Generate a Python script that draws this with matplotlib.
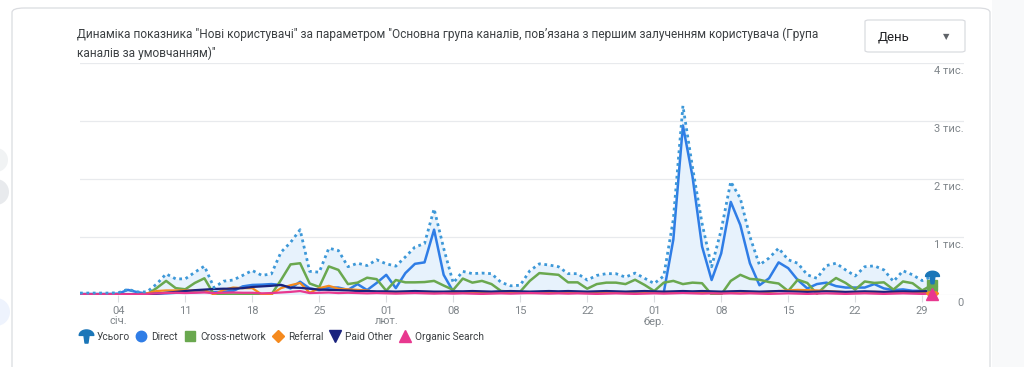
import matplotlib.pyplot as plt
import numpy as np
import pandas as pd
from matplotlib.patches import FancyBboxPatch, Rectangle, Ellipse
from matplotlib.path import Path
from matplotlib.lines import Line2D

plt.rcParams['font.family'] = ['Roboto', 'DejaVu Sans']

# ---------------- data (new users per day, 31.12 -> 30.03)
dates = pd.date_range('2022-12-31', periods=90, freq='D')

total = [25, 25, 25, 25, 30, 90, 45, 45, 180, 356, 270, 270, 385, 490, 120, 230, 250, 330, 415, 330,
         356, 730, 900, 1120, 400, 385, 800, 760, 480, 540, 500, 600, 530, 490, 650, 820, 880, 1480, 800, 200,
         400, 360, 370, 360, 210, 150, 160, 410, 530, 510, 480, 360, 360, 250, 330, 360, 360, 300, 370, 280,
         190, 320, 1300, 3260, 2200, 1230, 480, 1115, 1950, 1660, 1000, 510, 630, 800, 600, 540, 340, 280, 500, 540,
         425, 320, 480, 495, 425, 225, 410, 340, 240, 310]

direct = [10, 10, 10, 10, 15, 80, 40, 15, 15, 20, 30, 40, 40, 50, 40, 50, 60, 140, 165, 170,
          180, 165, 105, 220, 105, 76, 120, 120, 80, 180, 76, 200, 340, 110, 370, 530, 555, 1120, 340, 50,
          40, 45, 40, 40, 50, 40, 35, 40, 40, 45, 40, 40, 35, 40, 40, 45, 40, 40, 35, 40,
          30, 35, 950, 2920, 2040, 830, 250, 710, 1600, 1200, 540, 160, 280, 555, 455, 250, 105, 180, 205, 145,
          120, 120, 120, 180, 105, 76, 88, 64, 64, 64]

cross = [0, 0, 0, 0, 0, 0, 0, 0, 110, 235, 110, 90, 200, 280, 0, 0, 0, 0, 0, 0,
         0, 250, 520, 540, 190, 130, 485, 425, 180, 205, 290, 265, 65, 250, 210, 210, 215, 235, 155, 80,
         275, 205, 235, 180, 60, 50, 50, 235, 370, 355, 340, 210, 210, 100, 180, 205, 205, 180, 255, 165,
         60, 205, 235, 180, 205, 195, 0, 0, 235, 340, 270, 255, 215, 190, 60, 255, 200, 10, 165, 285,
         200, 85, 225, 200, 210, 85, 225, 195, 70, 160]

referral = [0, 0, 0, 0, 0, 0, 0, 20, 60, 70, 70, 70, 70, 75, 0, 80, 120, 110, 110, 0,
            5, 110, 160, 200, 30, 110, 150, 100, 90, 80, 70, 40, 40, 30, 35, 40, 30, 40, 35, 30,
            30, 35, 40, 30, 40, 35, 30, 25, 30, 35, 40, 35, 30, 40, 35, 30, 35, 40, 50, 45,
            40, 35, 40, 45, 40, 35, 30, 40, 45, 50, 40, 35, 45, 60, 70, 80, 75, 70, 60, 50,
            40, 35, 40, 45, 40, 35, 30, 35, 30, 30]

paid_other = [0, 0, 0, 0, 0, 0, 0, 5, 15, 30, 45, 60, 75, 85, 95, 100, 100, 110, 130, 140,
              150, 165, 120, 115, 100, 85, 80, 75, 70, 60, 60, 55, 55, 50, 55, 60, 55, 50, 50, 55,
              55, 60, 55, 50, 55, 60, 55, 50, 55, 60, 55, 60, 55, 50, 55, 60, 55, 50, 55, 60,
              55, 50, 55, 60, 55, 60, 55, 50, 55, 60, 55, 50, 55, 60, 55, 50, 45, 50, 55, 50,
              45, 50, 55, 50, 45, 50, 55, 50, 55, 60]

organic = [5, 5, 5, 5, 5, 5, 5, 10, 20, 25, 30, 25, 30, 35, 25, 30, 35, 30, 30, 20,
           25, 35, 45, 60, 25, 30, 35, 25, 30, 25, 20, 25, 20, 15, 20, 25, 20, 15, 20, 15,
           20, 15, 10, 15, 20, 15, 20, 25, 20, 15, 20, 15, 20, 15, 10, 15, 20, 15, 10, 15,
           20, 15, 20, 25, 20, 15, 20, 15, 20, 15, 20, 15, 10, 15, 20, 15, 10, 15, 20, 15,
           10, 15, 20, 15, 10, 15, 20, 15, 10, 15]

month_names = {1: 'січ.', 2: 'лют.', 3: 'бер.'}
y_ticks = [0, 1000, 2000, 3000, 4000]
y_labels = ['0', '1 тис.', '2 тис.', '3 тис.', '4 тис.']

title = ('Динаміка показника "Нові користувачі" за параметром "Основна група каналів, пов’язана з першим '
         'залученням користувача (Група\nканалів за умовчанням)"')

# ---------------- figure
W, H = 1024, 367
fig = plt.figure(figsize=(W / 100, H / 100), dpi=100)
fig.patch.set_facecolor('white')

# page background / card
fig.patches.append(Rectangle((992 / W, 0), 32 / W, 1, transform=fig.transFigure,
                             facecolor='#f8f9fa', edgecolor='none', zorder=-3))
for cy, r, col in [(160, 12, '#f1f3f4'), (192, 13, '#e8eaed'), (312, 14, '#eef3fd')]:
    fig.patches.append(Ellipse((-4 / W, 1 - cy / H), 2 * r / W, 2 * r / H, transform=fig.transFigure,
                               facecolor=col, edgecolor='none', zorder=-3))
fig.patches.append(FancyBboxPatch((12 / W, -0.2), (990 - 12) / W, 1.2 - 8 / H,
                                  boxstyle='round,pad=0,rounding_size=0.012',
                                  transform=fig.transFigure, facecolor='white',
                                  edgecolor='#dadce0', linewidth=0.9, zorder=-2))

fig.text(77 / W, 1 - 28 / H, title, fontsize=8.6, color='#3c4043', va='top', ha='left',
         linespacing=1.5)

# dropdown "День"
fig.patches.append(FancyBboxPatch((865 / W, 1 - 52 / H), 100 / W, 32 / H,
                                  boxstyle='round,pad=0,rounding_size=0.004',
                                  transform=fig.transFigure, facecolor='white',
                                  edgecolor='#dadce0', linewidth=0.9, zorder=2))
fig.text(878 / W, 1 - 37 / H, 'День', fontsize=9.5, color='#202124', va='center', ha='left', zorder=3)
fig.text(946 / W, 1 - 37 / H, '▼', fontsize=6, color='#5f6368', va='center', ha='center',
         family=['DejaVu Sans'], zorder=3)

# ---------------- axes
px_day = 9.57
ax_left, ax_right = 80, 964
y0, y4k = 294.5, 63
ax = fig.add_axes([ax_left / W, 1 - y0 / H, (ax_right - ax_left) / W, (y0 - y4k) / H])
ax.set_facecolor('none')
x = np.arange(len(dates))
ax.set_xlim(0, (ax_right - ax_left) / px_day)
ax.set_ylim(0, 4000)

for s in ax.spines.values():
    s.set_visible(False)
ax.set_yticks([])
for v, lab in zip(y_ticks, y_labels):
    ax.axhline(v, color='#e8eaed', linewidth=0.9, zorder=0)
    ax.text(1.0, v - 55, lab, transform=ax.get_yaxis_transform(),
            ha='right', va='top', fontsize=8, color='#80868b')

# x ticks weekly from Jan 4
start = pd.Timestamp('2023-01-04')
tick_idx = [i for i, d in enumerate(dates) if d >= start and (d - start).days % 7 == 0]
tick_lbl = []
seen = set()
for i in tick_idx:
    d = dates[i]
    lab = d.strftime('%d')
    if d.month not in seen:
        lab += '\n' + month_names[d.month]
        seen.add(d.month)
    tick_lbl.append(lab)
ax.set_xticks(tick_idx)
ax.set_xticklabels(tick_lbl, fontsize=8, color='#80868b', linespacing=1.05, va='top')
ax.tick_params(axis='x', length=5, color='#dadce0', width=0.8, pad=3)

# ---------------- series
c_total = '#3d98d8'
c_pin = '#1b76b8'
c_direct = '#2f7de6'
c_cross = '#6aa84f'
c_ref = '#f58a1e'
c_paid = '#1a237e'
c_org = '#e8388f'

ax.fill_between(x, 0, total, color='#e7f2fc', zorder=1, linewidth=0)
ax.plot(x, total, color=c_total, linestyle=(0, (1, 1.3)), linewidth=2, zorder=7)
ax.plot(x, direct, color=c_direct, linewidth=1.8, zorder=3)
ax.plot(x, cross, color=c_cross, linewidth=1.8, zorder=4)
ax.plot(x, referral, color=c_ref, linewidth=1.6, zorder=5)
ax.plot(x, paid_other, color=c_paid, linewidth=1.6, zorder=6)
ax.plot(x, organic, color=c_org, linewidth=1.6, zorder=6)

# pin marker for "Усього"
verts = []
codes = []
th = np.linspace(np.pi, 0, 20)
for k, t in enumerate(th):
    verts.append((np.cos(t), 0.15 + 0.75 * np.sin(t)))
    codes.append(Path.MOVETO if k == 0 else Path.LINETO)
verts += [(0.35, 0.15), (0.2, -0.9), (-0.2, -0.9), (-0.35, 0.15), (-1, 0.15)]
codes += [Path.LINETO] * 4 + [Path.CLOSEPOLY]
pin = Path(verts, codes)

last = len(dates) - 1
ax.plot(x[last], direct[last], marker='o', ms=7, color=c_direct, zorder=8, clip_on=False)
ax.plot(x[last], paid_other[last], marker='v', ms=7, color=c_paid, zorder=8, clip_on=False)
ax.plot(x[last], referral[last], marker='D', ms=6, color=c_ref, zorder=8, clip_on=False)
ax.plot(x[last], cross[last], marker='s', ms=7, color=c_cross, zorder=9, clip_on=False)
ax.plot(x[last], organic[last], marker='^', ms=8, color=c_org, zorder=9, clip_on=False)
ax.plot(x[last], total[last], marker=pin, ms=10, color=c_pin, zorder=10, clip_on=False)

# ---------------- legend
handles = [
    Line2D([], [], marker=pin, ms=10.5, color=c_pin, linestyle='none'),
    Line2D([], [], marker='o', ms=7.5, color=c_direct, linestyle='none'),
    Line2D([], [], marker='s', ms=7, color=c_cross, linestyle='none'),
    Line2D([], [], marker='D', ms=6.5, color=c_ref, linestyle='none'),
    Line2D([], [], marker='v', ms=8, color=c_paid, linestyle='none'),
    Line2D([], [], marker='^', ms=8, color=c_org, linestyle='none'),
]
labels = ['Усього', 'Direct', 'Cross-network', 'Referral', 'Paid Other', 'Organic Search']
fig.legend(handles, labels, loc='center left', bbox_to_anchor=(81 / W, 1 - 337 / H), ncol=6,
           frameon=False, fontsize=7.3, handlelength=1.0, handletextpad=0.5, columnspacing=0.68,
           labelcolor='#3c4043', borderaxespad=0, borderpad=0)

fig.savefig('out.png', dpi=100)
